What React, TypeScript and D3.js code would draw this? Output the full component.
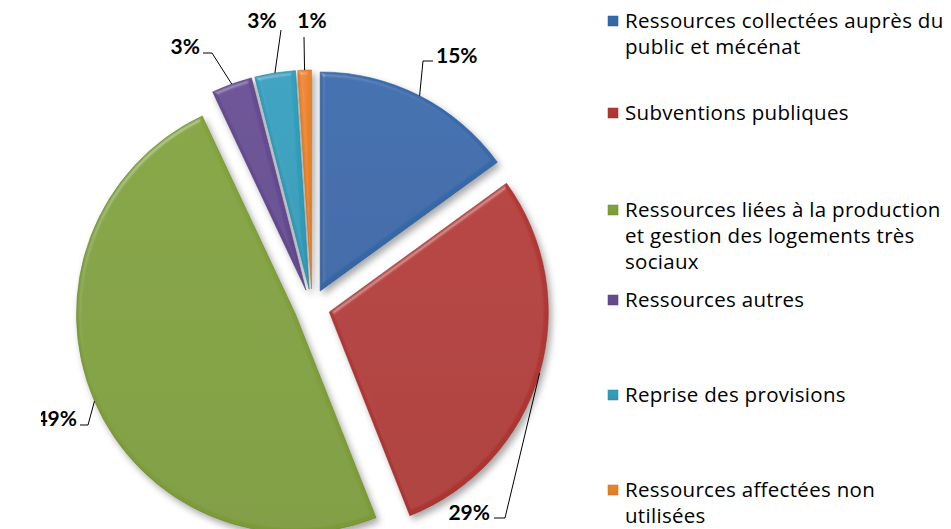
import React from "react";
import * as d3 from "d3";

const categories = [
  "Ressources collectées auprès du public et mécénat",
  "Subventions publiques",
  "Ressources liées à la production et gestion des logements très sociaux",
  "Ressources autres",
  "Reprise des provisions",
  "Ressources affectées non utilisées",
];
const values = [15, 29, 49, 3, 3, 1];
const percentLabels = ["15%", "29%", "49%", "3%", "3%", "1%"];
const legendLines = [
  ["Ressources collectées auprès du", "public et mécénat"],
  ["Subventions publiques"],
  ["Ressources liées à la production", "et gestion des logements très", "sociaux"],
  ["Ressources autres"],
  ["Reprise des provisions"],
  ["Ressources affectées non", "utilisées"],
];
const colors = ["#386bad", "#b43835", "#83a33b", "#674c94", "#30a0bf", "#ec8427"];

const W = 951;
const H = 529;
const CX = 312;
const CY = 307;
const R = 219;
const EXPLODE = 18;

const labelLayout = [
  { anchor: "start", tx: 436, ty: 63, knee: [[433, 61], [423, 61]] },
  { anchor: "end", tx: 490, ty: 520, knee: [[494, 518], [505, 518]] },
  { anchor: "end", tx: 77, ty: 426, knee: [[80, 425], [88, 425]] },
  { anchor: "end", tx: 200, ty: 54, knee: [[203, 53], [212, 53]] },
  { anchor: "middle", tx: 262, ty: 28, knee: [[281, 30]] },
  { anchor: "middle", tx: 312, ty: 28, knee: [[304, 37]] },
];

const legendItemTop = [28, 120, 217, 307, 402, 497];
const LINE_H = 26;

export default function App() {
  const pie = d3
    .pie<number>()
    .sort(null)
    .startAngle(0)
    .endAngle(2 * Math.PI)(values);
  const arc = d3.arc<d3.PieArcDatum<number>>().innerRadius(0).outerRadius(R);

  const slices = pie.map((p, i) => {
    const mid = (p.startAngle + p.endAngle) / 2;
    const ox = Math.sin(mid) * EXPLODE;
    const oy = -Math.cos(mid) * EXPLODE;
    const px = CX + ox + Math.sin(mid) * R;
    const py = CY + oy - Math.cos(mid) * R;
    return { p, i, ox, oy, px, py };
  });

  const labelFont = "Lato, 'Open Sans', sans-serif";
  const legendFont = "'Open Sans', Lato, sans-serif";

  return (
    <svg width={W} height={H} style={{ position: "absolute", left: 0, top: 0, background: "#fff" }}>
      <defs>
        <filter id="shadow" x="-20%" y="-20%" width="140%" height="140%">
          <feDropShadow dx="3" dy="4" stdDeviation="3.5" floodColor="#000" floodOpacity="0.35" />
        </filter>
        <filter id="bevel" x="-5%" y="-5%" width="110%" height="110%">
          <feGaussianBlur in="SourceAlpha" stdDeviation="2.2" result="b" />
          <feSpecularLighting in="b" surfaceScale="3" specularConstant="0.45" specularExponent="24" lightingColor="#ffffff" result="s">
            <feDistantLight azimuth="235" elevation="42" />
          </feSpecularLighting>
          <feComposite in="s" in2="SourceAlpha" operator="in" result="s2" />
          <feComposite in="SourceGraphic" in2="s2" operator="arithmetic" k1="0" k2="1" k3="0.45" k4="0" />
        </filter>
        <clipPath id="plotClip">
          <rect x={41} y={0} width={W} height={H} />
        </clipPath>
        {colors.map((c, i) => (
          <linearGradient key={i} id={`g${i}`} x1="0" y1="0" x2="0" y2="1">
            <stop offset="0" stopColor={d3.color(c)!.formatHex()} />
            <stop offset="1" stopColor={d3.color(c)!.darker(0.15).formatHex()} />
          </linearGradient>
        ))}
      </defs>

      <g filter="url(#shadow)">
        {slices.map(({ p, i, ox, oy }) => (
          <g key={i} transform={`translate(${CX + ox},${CY + oy})`} filter="url(#bevel)">
            <path d={arc(p) || ""} fill={`url(#g${i})`} stroke={d3.color(colors[i])!.darker(0.6).formatHex()} strokeWidth={0.6} />
          </g>
        ))}
      </g>

      <g clipPath="url(#plotClip)">
        {slices.map(({ i, px, py }) => {
          const L = labelLayout[i];
          const pts = [...L.knee, [px, py]];
          return (
            <g key={i}>
              <polyline points={pts.map((q) => q.join(",")).join(" ")} fill="none" stroke="#000" strokeWidth={1} />
              <text x={L.tx} y={L.ty} textAnchor={L.anchor as any} fontFamily={labelFont} fontWeight="bold" fontSize={21} fill="#000">
                {percentLabels[i]}
              </text>
            </g>
          );
        })}
      </g>

      <g>
        {legendLines.map((lines, i) => (
          <g key={i}>
            <rect x={608} y={legendItemTop[i] - 12} width={10} height={10} fill={`url(#g${i})`} stroke={d3.color(colors[i])!.darker(0.5).formatHex()} strokeWidth={0.5} />
            {lines.map((ln, j) => (
              <text key={j} x={625} y={legendItemTop[i] + j * LINE_H} fontFamily={legendFont} fontSize={20.5} letterSpacing={0.3} fill="#000">
                {ln}
              </text>
            ))}
          </g>
        ))}
      </g>
    </svg>
  );
}
